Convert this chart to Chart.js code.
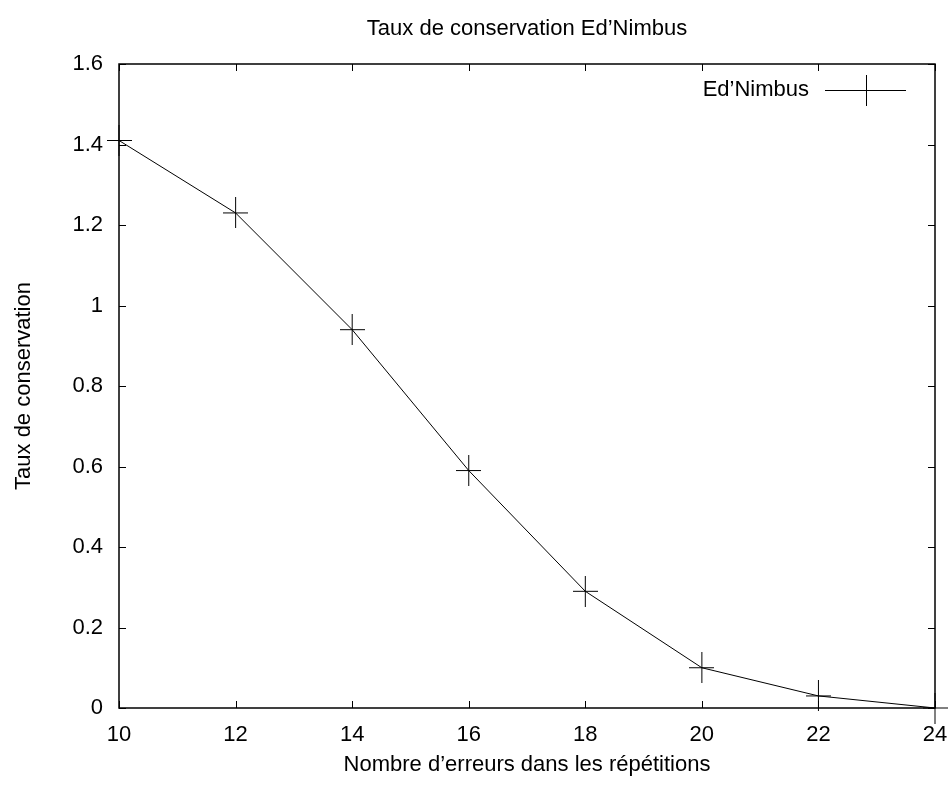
<!DOCTYPE html>
<html>
<head>
<meta charset="utf-8">
<script src="https://cdn.jsdelivr.net/npm/chart.js@4"></script>
<style>
  html, body { margin: 0; padding: 0; background: #fff; }
  canvas { display: block; }
</style>
</head>
<body>
<canvas id="chart" width="948" height="792"></canvas>
<script>
// Data
const errors = [10, 12, 14, 16, 18, 20, 22, 24];
const conservation = [1.41, 1.23, 0.94, 0.59, 0.29, 0.10, 0.03, 0.00];
const xTicks = [10, 12, 14, 16, 18, 20, 22, 24];
const yTicks = [0, 0.2, 0.4, 0.6, 0.8, 1.0, 1.2, 1.4, 1.6];
const seriesLabel = 'Ed\u2019Nimbus';
const chartTitle = 'Taux de conservation Ed\u2019Nimbus';
const xTitle = 'Nombre d\u2019erreurs dans les r\u00e9p\u00e9titions';
const yTitle = 'Taux de conservation';

const FONT = "'Liberation Sans', Arial, Helvetica, sans-serif";
Chart.defaults.font.family = FONT;
Chart.defaults.font.size = 22;
Chart.defaults.color = '#000';

// gnuplot style "+" marker (a bit taller than wide)
function makeCross(w, h) {
    const c = document.createElement('canvas');
    c.width = w;
    c.height = h;
    const g = c.getContext('2d');
    g.strokeStyle = '#000';
    g.lineWidth = 1;
    g.beginPath();
    g.moveTo(0, h / 2);
    g.lineTo(w, h / 2);
    g.moveTo(w / 2, 0);
    g.lineTo(w / 2, h);
    g.stroke();
    return c;
}
const cross = makeCross(25, 31);

const TICK = 7;

// border box + inward ticks on all four sides, like gnuplot
const framePlugin = {
    id: 'frame',
    beforeDatasetsDraw(chart) {
        const { ctx, chartArea: a, scales: { x, y } } = chart;
        ctx.save();
        ctx.strokeStyle = '#000';
        ctx.lineWidth = 1;
        ctx.beginPath();
        xTicks.forEach(v => {
            const px = Math.round(x.getPixelForValue(v)) + 0.5;
            ctx.moveTo(px, a.bottom);
            ctx.lineTo(px, a.bottom - TICK);
            ctx.moveTo(px, a.top);
            ctx.lineTo(px, a.top + TICK);
        });
        yTicks.forEach(v => {
            const py = Math.round(y.getPixelForValue(v)) + 0.5;
            ctx.moveTo(a.left, py);
            ctx.lineTo(a.left + TICK, py);
            ctx.moveTo(a.right, py);
            ctx.lineTo(a.right - TICK, py);
        });
        ctx.stroke();
        ctx.lineWidth = 1.5;
        ctx.strokeRect(a.left, a.top, a.right - a.left, a.bottom - a.top);
        ctx.restore();
    }
};

// key in the top right corner: text, then line sample with marker
const keyPlugin = {
    id: 'key',
    afterDatasetsDraw(chart) {
        const { ctx, chartArea: a } = chart;
        const ds = chart.data.datasets[0];
        const ky = a.top + 26;
        const x1 = a.right - 110;
        const x2 = a.right - 29;
        ctx.save();
        ctx.font = '22px ' + FONT;
        ctx.fillStyle = '#000';
        ctx.textAlign = 'right';
        ctx.textBaseline = 'middle';
        ctx.fillText(ds.label, x1 - 16, ky);
        ctx.strokeStyle = ds.borderColor;
        ctx.lineWidth = 1;
        ctx.beginPath();
        ctx.moveTo(x1, Math.round(ky) + 0.5);
        ctx.lineTo(x2, Math.round(ky) + 0.5);
        ctx.stroke();
        ctx.drawImage(cross, Math.round((x1 + x2) / 2) - 12, Math.round(ky) - 15);
        ctx.restore();
    }
};

const ctx = document.getElementById('chart');
const chart = new Chart(ctx.getContext('2d'), {
    type: 'line',
    data: {
        datasets: [{
            label: seriesLabel,
            data: errors.map((e, i) => ({ x: e, y: conservation[i] })),
            borderColor: '#000',
            borderWidth: 1,
            tension: 0,
            fill: false,
            pointStyle: cross,
            pointRadius: 12,
            clip: false
        }]
    },
    options: {
        responsive: false,
        animation: false,
        events: [],
        layout: { padding: { top: 0, left: 0, right: 13, bottom: 0 } },
        scales: {
            x: {
                type: 'linear',
                min: 10,
                max: 24,
                afterBuildTicks: s => { s.ticks = xTicks.map(v => ({ value: v })); },
                afterFit: s => {
                    s.height = 84;
                    // let the last label hang past the frame, as gnuplot does
                    s.paddingLeft = 0;
                    s.paddingRight = 0;
                },
                grid: { display: false, drawTicks: false },
                border: { display: false },
                ticks: {
                    padding: 14,
                    maxRotation: 0,
                    autoSkip: false,
                    callback: v => String(v)
                },
                title: {
                    display: true,
                    text: xTitle,
                    font: { size: 22 },
                    padding: { top: 0, bottom: 14 }
                }
            },
            y: {
                type: 'linear',
                min: 0,
                max: 1.6,
                afterBuildTicks: s => { s.ticks = yTicks.map(v => ({ value: v })); },
                afterFit: s => {
                    s.width = 119;
                    s.paddingTop = 0;
                    s.paddingBottom = 0;
                },
                grid: { display: false, drawTicks: false },
                border: { display: false },
                ticks: {
                    padding: 16,
                    autoSkip: false,
                    callback: v => String(+v.toFixed(1))
                },
                title: {
                    display: true,
                    text: yTitle,
                    font: { size: 22 },
                    padding: { top: 11, bottom: 0 }
                }
            }
        },
        plugins: {
            legend: { display: false },
            tooltip: { enabled: false },
            title: {
                display: true,
                text: chartTitle,
                fullSize: false,
                font: { size: 22, weight: 'normal' },
                color: '#000',
                padding: { top: 16, bottom: 21.6 }
            }
        }
    },
    plugins: [framePlugin, keyPlugin]
});
</script>
</body>
</html>
